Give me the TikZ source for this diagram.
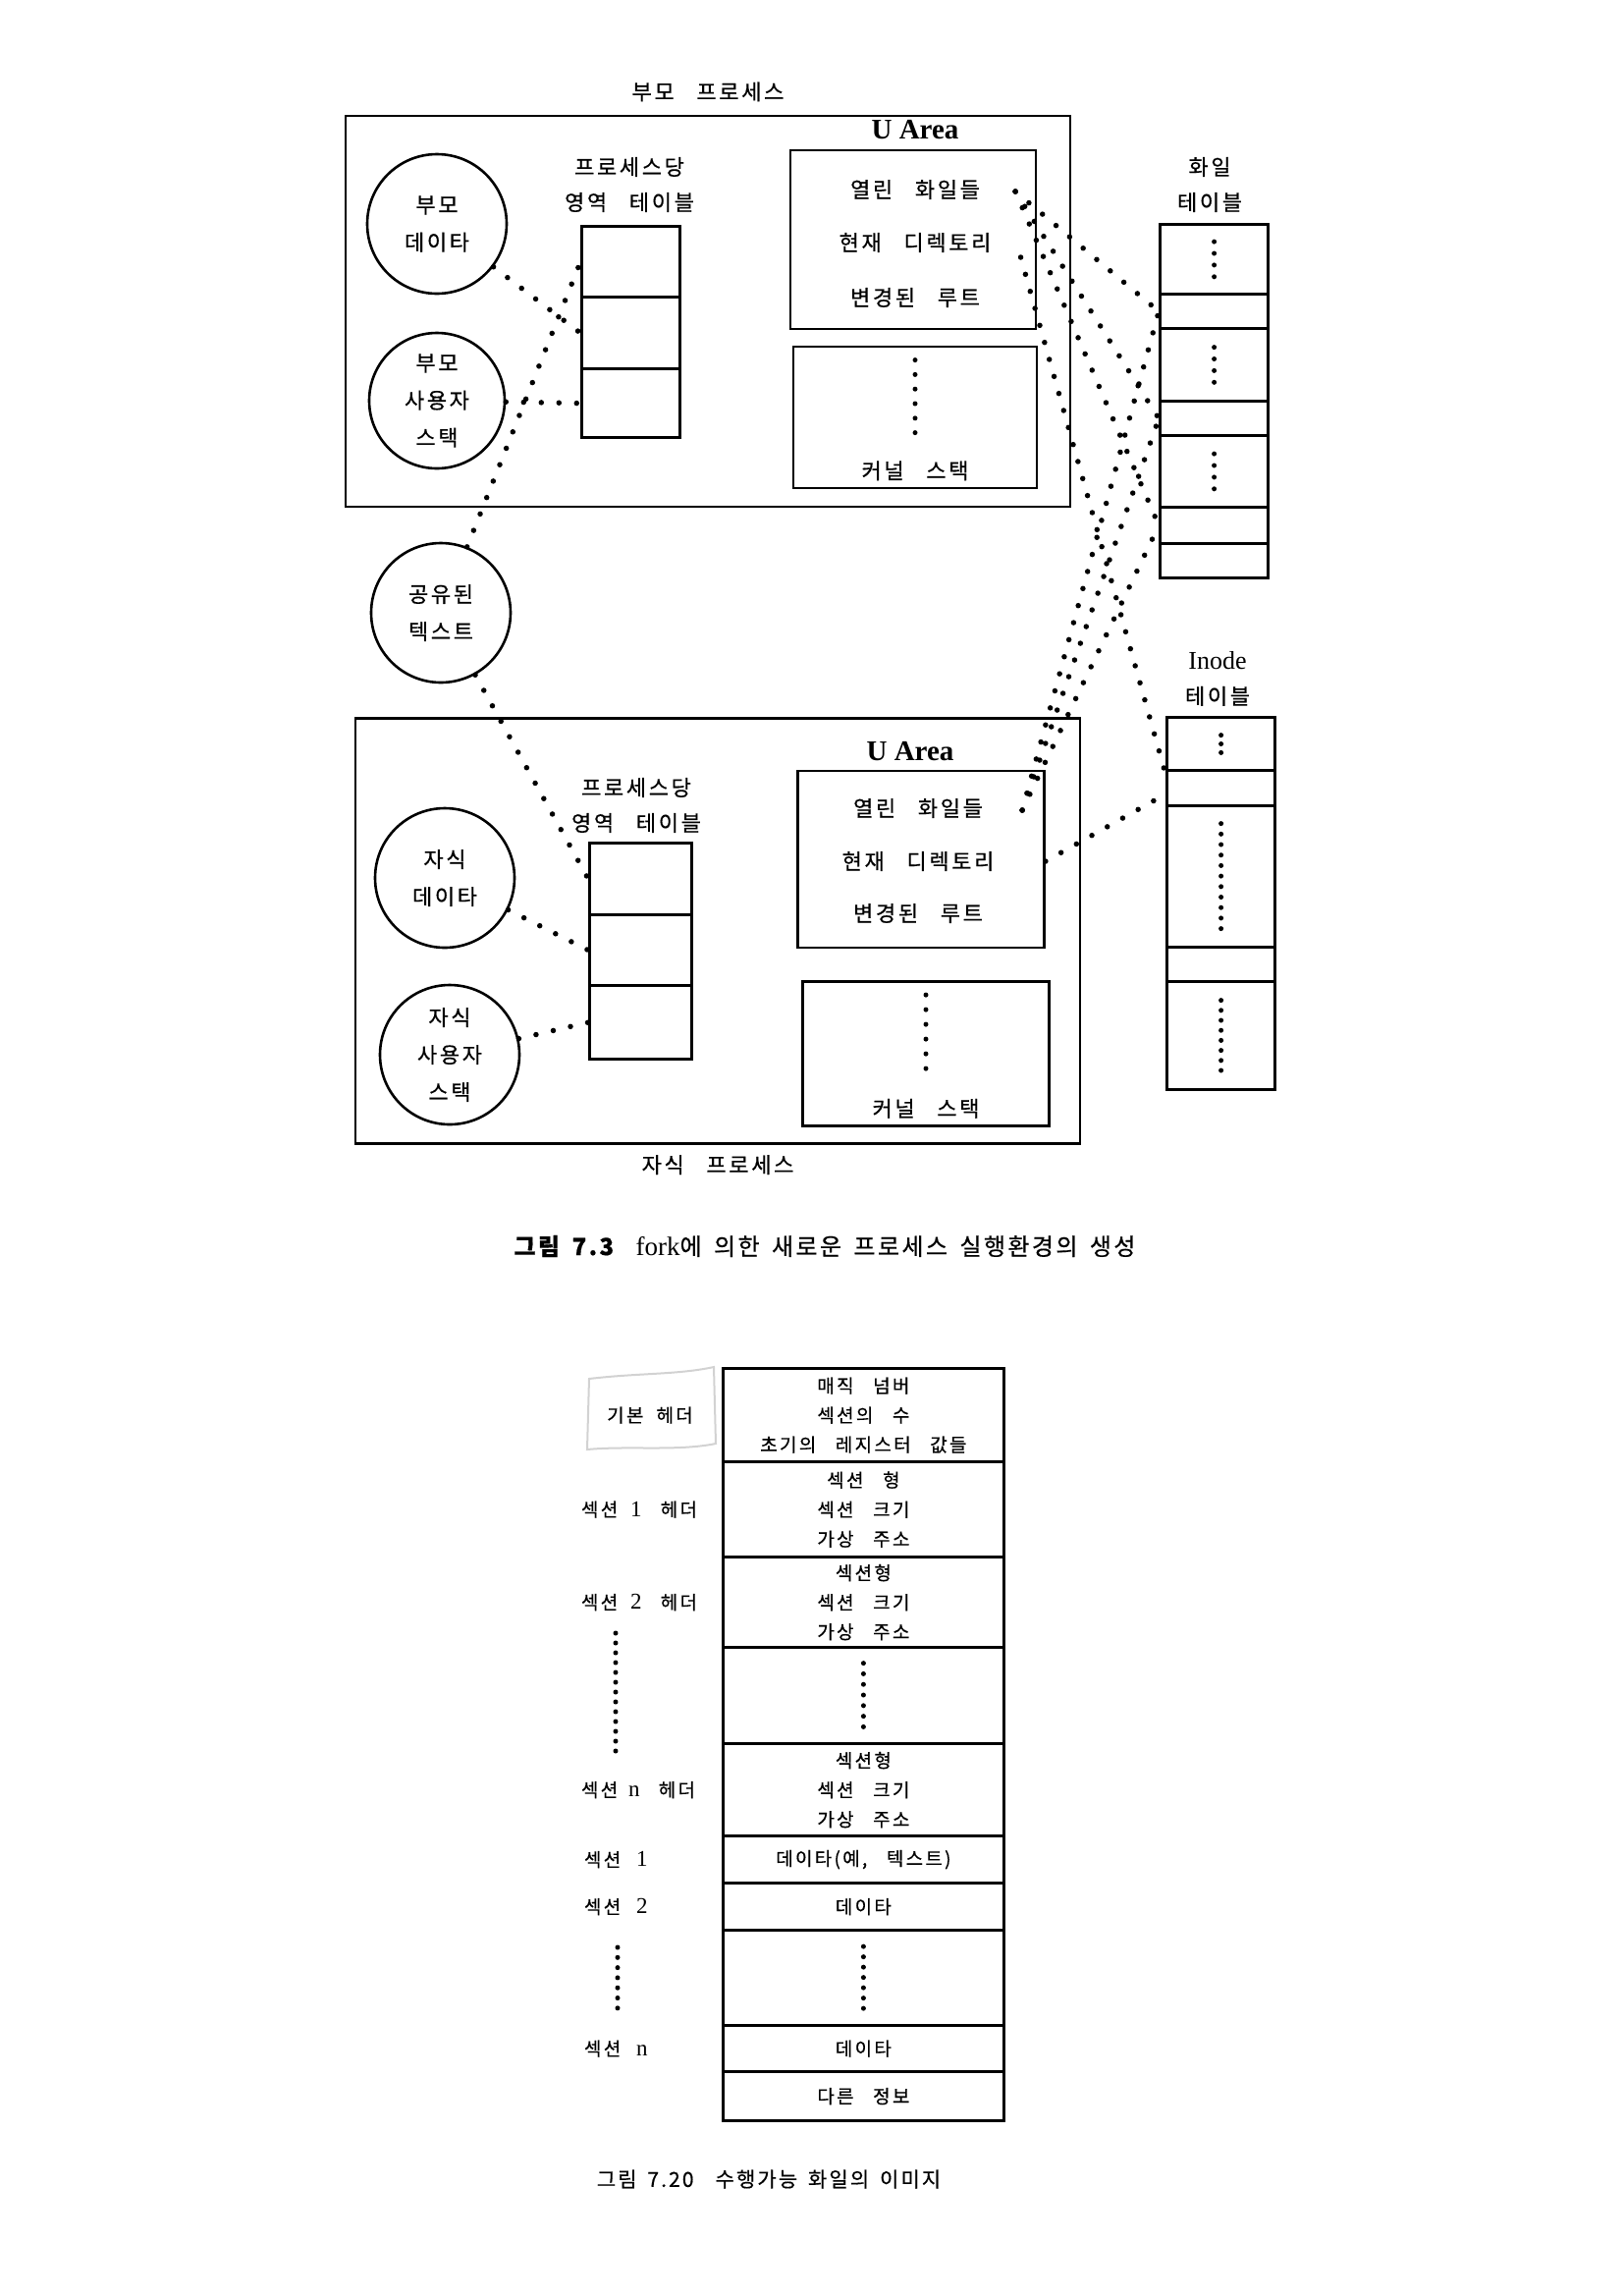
\documentclass[tikz,border=0pt]{standalone}
\usepackage{fontspec}
\setmainfont{Noto Sans CJK KR}[LetterSpace=12, WordSpace=3, FakeBold=0.5]
\newfontfamily\capfont{Noto Sans CJK KR}[LetterSpace=10, WordSpace=1.6, FakeBold=0.5]
\newfontfamily\serif{Liberation Serif}
\usetikzlibrary{matrix,positioning}
% text block of a header cell
\newcommand{\cellpar}[1]{\parbox{280pt}{\centering #1}}
% latin letters in the labels
\newcommand{\lat}[1]{{\serif\fontsize{23}{30}\selectfont #1}}

\begin{document}
\begin{tikzpicture}[
     x=1pt, y=-1pt,
     % define styles
     txt/.style={font=\fontsize{22}{36}\selectfont, align=center, inner sep=0pt},
     box/.style={draw, line width=2.8pt, inner sep=0pt},
     uarea/.style={font=\serif\bfseries\fontsize{29}{30}\selectfont, inner sep=0pt},
     circ/.style={
         draw, circle, line width=2.6pt, inner sep=0pt,
         minimum size=#1, align=center,
         font=\fontsize{22}{38}\selectfont
     },
     circ/.default=142,
     tab/.style={
         matrix of nodes,
         nodes={draw, line width=2.8pt, inner sep=0pt, anchor=center, minimum width=#1},
         nodes in empty cells,
         row sep=-2.8pt,
         inner sep=0pt,
         anchor=north west
     },
     tab/.default=100,
     imgtab/.style={
         matrix of nodes,
         nodes={inner sep=0pt, anchor=center, font=\fontsize{19}{30}\selectfont},
         nodes in empty cells,
         column sep=3pt,
         row sep=-2.8pt,
         inner sep=0pt,
         column 1/.style={nodes={text width=140pt, align=left}},
         column 2/.style={nodes={draw, line width=2.8pt, minimum width=286pt}}
     },
     caption/.style={font=\capfont\fontsize{#1}{30}\selectfont, inner sep=0pt},
     link/.style={line width=5.5pt, line cap=round, dash pattern=on 0pt off 18pt},
     vdots/.style={line width=5pt, line cap=round, dash pattern=on 0pt off #1},
     vdots/.default=12pt,
     pencil/.style={draw=gray!35, line width=2pt}
]
\useasboundingbox (0,0) rectangle (1654,2338);

% parent process
\node[box, minimum width=738, minimum height=398] (pbox) at (721,317) {};
\node[txt, above=13pt of pbox.north] (plabel) {부모 프로세스};
\node[uarea] (pulabel) at (932,132) {U Area};
\node[box, minimum width=250, minimum height=182] (pua) at (930,244) {};
\node[txt] (popen) at (932,193) {열린 화일들};
\node[txt] (pcwd) at (932,247) {현재 디렉토리};
\node[txt] (proot) at (932,303) {변경된 루트};
\node[box, minimum width=248, minimum height=144] (pks) at (932,425) {};
\node[txt, above=9pt of pks.south] (pkslabel) {커널 스택};
\node[circ] (pdata) at (445,228) {부모\\데이타};
\node[circ=138] (pstack) at (445,408) {부모\\사용자\\스택};
\node[txt] (ptablabel) at (641,188) {프로세스당\\영역 테이블};
\matrix[tab] (ptab) at (591,229)
{
|[minimum height=72]| \\
|[minimum height=73]| \\
|[minimum height=70]| \\
};

% shared text
\node[circ] (shared) at (449,624) {공유된\\텍스트};

% child process
\node[box, minimum width=738, minimum height=433] (cbox) at (731,948) {};
\node[txt, below=10pt of cbox.south] (clabel) {자식 프로세스};
\node[uarea] (culabel) at (927,765) {U Area};
\node[box, minimum width=251, minimum height=180] (cua) at (938,875) {};
\node[txt] (copen) at (935,823) {열린 화일들};
\node[txt] (ccwd) at (935,877) {현재 디렉토리};
\node[txt] (croot) at (935,930) {변경된 루트};
\node[box, minimum width=251, minimum height=147] (cks) at (943,1073) {};
\node[txt, above=9pt of cks.south] (ckslabel) {커널 스택};
\node[circ] (cdata) at (453,894) {자식\\데이타};
\node[circ] (cstack) at (458,1074) {자식\\사용자\\스택};
\node[txt] (ctablabel) at (648,820) {프로세스당\\영역 테이블};
\matrix[tab=104] (ctab) at (599,857)
{
|[minimum height=73]| \\
|[minimum height=72]| \\
|[minimum height=75]| \\
};

% file table and inode table
\node[txt] (ftablabel) at (1232,188) {화일\\테이블};
\matrix[tab=110] (ftab) at (1180,227)
{
|[minimum height=71]| \\
|[minimum height=35]| \\
|[minimum height=74]| \\
|[minimum height=35]| \\
|[minimum height=73]| \\
|[minimum height=37]| \\
|[minimum height=35]| \\
};
\node[txt] (itablabel) at (1240,691) {{\serif\fontsize{26}{36}\selectfont Inode}\\테이블};
\matrix[tab=110] (itab) at (1187,729)
{
|[minimum height=54]| \\
|[minimum height=36]| \\
|[minimum height=144]| \\
|[minimum height=35]| \\
|[minimum height=110]| \\
};

% dots inside the tables
\foreach \c/\h/\s in {ftab-1-1/18pt/11.9pt, ftab-3-1/18pt/11.9pt, ftab-5-1/18pt/11.9pt,
                      itab-1-1/9pt/8.9pt, itab-3-1/54pt/10.7pt, itab-5-1/36pt/10.2pt}
    \draw[vdots=\s] ([yshift=\h]\c.center) -- ([yshift=-\h]\c.center);
\draw[vdots=14.8pt] ([yshift=-15pt]pks.north) -- ++(0,74);
\draw[vdots=15pt] ([yshift=-15pt]cks.north) -- ++(0,75);

% pointers
\coordinate (pfd) at ([xshift=36pt, yshift=-2pt]popen.east);
\coordinate (pdir) at ([xshift=30pt, yshift=-15pt]pcwd.east);
\coordinate (cfd) at ([xshift=40pt, yshift=-2pt]copen.east);
\coordinate (cdir) at (cua.east |- ccwd);
\draw[link] (pdata) -- (ptab-2-1.west);
\draw[link] (pstack) -- (ptab-3-1.west);
\draw[link] (shared) -- (ptab-1-1.west);
\draw[link] (shared) -- (ctab-1-1.west);
\draw[link] (cdata) -- (ctab-2-1.west);
\draw[link] (cstack) -- (ctab-3-1.west);
\foreach \r in {2,4,6} {
    \draw[link] (pfd) -- (ftab-\r-1.west);
    \draw[link] (cfd) -- (ftab-\r-1.west);
}
\draw[link] (pdir) -- ([yshift=14pt]itab-2-1.west);
\draw[link] (cdir) -- ([yshift=-6pt]itab-2-1.west);

\node[caption=24] (cap1) at (840,1269)
    {\textbf{그림 7.3}\hspace{20pt}{\serif\fontsize{27}{30}\selectfont fork}에 의한 새로운 프로세스 실행환경의 생성};

% executable image
\matrix[imgtab, anchor=north east] (img) at (1024,1392)
{
|[align=center]| 기본\hspace{13pt}헤더 & |[minimum height=95]| \cellpar{매직 넘버\\섹션의 수\\초기의 레지스터 값들} \\
섹션\hspace{13pt}\lat{1}\hspace{19pt}헤더 & |[minimum height=97]| \cellpar{섹션 형\\섹션 크기\\가상 주소} \\
섹션\hspace{13pt}\lat{2}\hspace{19pt}헤더 & |[minimum height=92]| \cellpar{섹션형\\섹션 크기\\가상 주소} \\
 & |[minimum height=98]| \\
섹션\hspace{11pt}\lat{n}\hspace{19pt}헤더 & |[minimum height=94]| \cellpar{섹션형\\섹션 크기\\가상 주소} \\
\hspace{3pt}섹션\hspace{16pt}\lat{1} & |[minimum height=48]| 데이타(예, 텍스트) \\
\hspace{3pt}섹션\hspace{16pt}\lat{2} & |[minimum height=48]| 데이타 \\
 & |[minimum height=97]| \\
\hspace{3pt}섹션\hspace{16pt}\lat{n} & |[minimum height=47]| 데이타 \\
 & |[minimum height=50]| 다른 정보 \\
};
\draw[pencil] (600,1404) .. controls (650,1398) and (690,1400) .. (727,1392) -- (729,1470)
    .. controls (690,1478) and (640,1472) .. (598,1476) -- cycle;
\draw[vdots=10.8pt] ([yshift=33pt]img-4-2.center) -- ([yshift=-33pt]img-4-2.center);
\draw[vdots=10.5pt] ([yshift=32pt]img-8-2.center) -- ([yshift=-32pt]img-8-2.center);
\draw[vdots=10pt] (627,1663) -- (627,1793);
\draw[vdots=10.3pt] (629,1983) -- (629,2055);

\node[caption=21] (cap2) at (783,2219)
    {그림 7.20\hspace{22pt}수행가능 화일의 이미지};
\end{tikzpicture}
\end{document}
